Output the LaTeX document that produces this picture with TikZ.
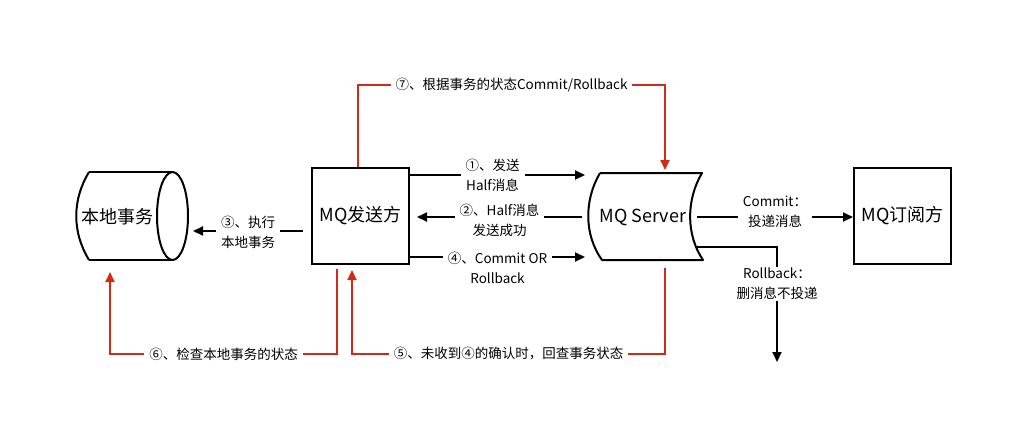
\documentclass[tikz,border=0pt]{standalone}
\usepackage{fontspec}
\setmainfont{Noto Sans CJK SC}
\usetikzlibrary{arrows.meta}
\definecolor{redl}{RGB}{209,43,22}
\begin{document}
\begin{tikzpicture}[x=1pt,y=-1pt,
  shp/.style={line width=2pt,line join=round},
  box/.style={draw,line width=2pt,minimum width=97pt,minimum height=96pt,inner sep=0pt,font=\fontsize{18}{20}\selectfont},
  big/.style={inner sep=0pt,font=\fontsize{18}{20}\selectfont},
  arr/.style={line width=1.8pt,-{Triangle[length=10pt,width=9pt]}},
  ln/.style={line width=1.8pt},
  redarr/.style={line width=1.8pt,draw=redl,-{Triangle[length=10pt,width=9pt]}},
  lbl/.style={fill=white,text=black,inner xsep=5pt,inner ysep=1pt,align=center,font=\fontsize{13.5}{20}\selectfont}]
\useasboundingbox (0,0) rectangle (1020,424);
\fill[white] (0,0) rectangle (1020,424);

% local transaction cylinder
\draw[shp] (89,172) -- (172,172);
\draw[shp] (89,260) -- (172,260);
\draw[shp] (89,172) .. controls (72,200) and (72,232) .. (89,260);
\draw[shp] (172.5,216) ellipse [x radius=15.5, y radius=44];
\node[big] (db) at (117,217) {本地事务};

% sender box
\node[box] (snd) at (360.5,216) {MQ发送方};

% MQ server shape
\draw[shp] (600,173) -- (702,173) .. controls (686,200) and (686,235) .. (703,260)
  -- (602,260) .. controls (584,235) and (584,200) .. (600,173);
\node[big] (srv) at (643,217) {MQ Server};

% subscriber box
\node[box] (sub) at (902.5,216) {MQ订阅方};

% coordinates
\coordinate (a1) at (585,175);
\coordinate (a2s) at (582,217);
\coordinate (a2e) at (417,217);
\coordinate (a4) at (585,257);
\coordinate (a3s) at (303,231);
\coordinate (a3e) at (193,231);
\coordinate (c1s) at (697,217);
\coordinate (c2s) at (697,247);
\coordinate (c2m) at (777,247);
\coordinate (c2e) at (777,362);
\coordinate (t1) at (358,85);
\coordinate (t2) at (665,85);
\coordinate (t3) at (665,170);
\coordinate (f1) at (665,268);
\coordinate (f2) at (665,354);
\coordinate (f3) at (352,354);
\coordinate (f4) at (352,270);
\coordinate (s1) at (337,269);
\coordinate (s2) at (337,354);
\coordinate (s3) at (110,354);
\coordinate (s4) at (110,272);

% black connectors
\draw[arr] (snd.east |- a1) -- node[lbl,xshift=-5pt]{①、发送\\Half消息} (a1);
\draw[arr] (a2s) -- node[lbl,yshift=-3pt]{②、Half消息\\发送成功} (a2e);
\draw[arr] (snd.east |- a4) -- node[lbl,yshift=-11pt]{④、Commit OR\\Rollback} (a4);
\draw[arr] (a3s) -- node[lbl,yshift=-1pt]{③、执行\\本地事务} (a3e);
\draw[arr] (c1s) -- node[lbl,yshift=5pt]{Commit：\\投递消息} (sub.west |- c1s) ;
\draw[arr] (c2s) -- (c2m) -- node[lbl,pos=0.32]{Rollback：\\删消息不投递} (c2e);

% red connectors
\draw[redarr] (snd.north -| t1) -- (t1) -- node[lbl]{⑦、根据事务的状态Commit/Rollback} (t2) -- (t3);
\draw[redarr] (f1) -- (f2) -- node[lbl]{⑤、未收到④的确认时，回查事务状态} (f3) -- (f4);
\draw[redarr] (s1) -- (s2) -- node[lbl]{⑥、检查本地事务的状态} (s3) -- (s4);
\end{tikzpicture}
\end{document}
